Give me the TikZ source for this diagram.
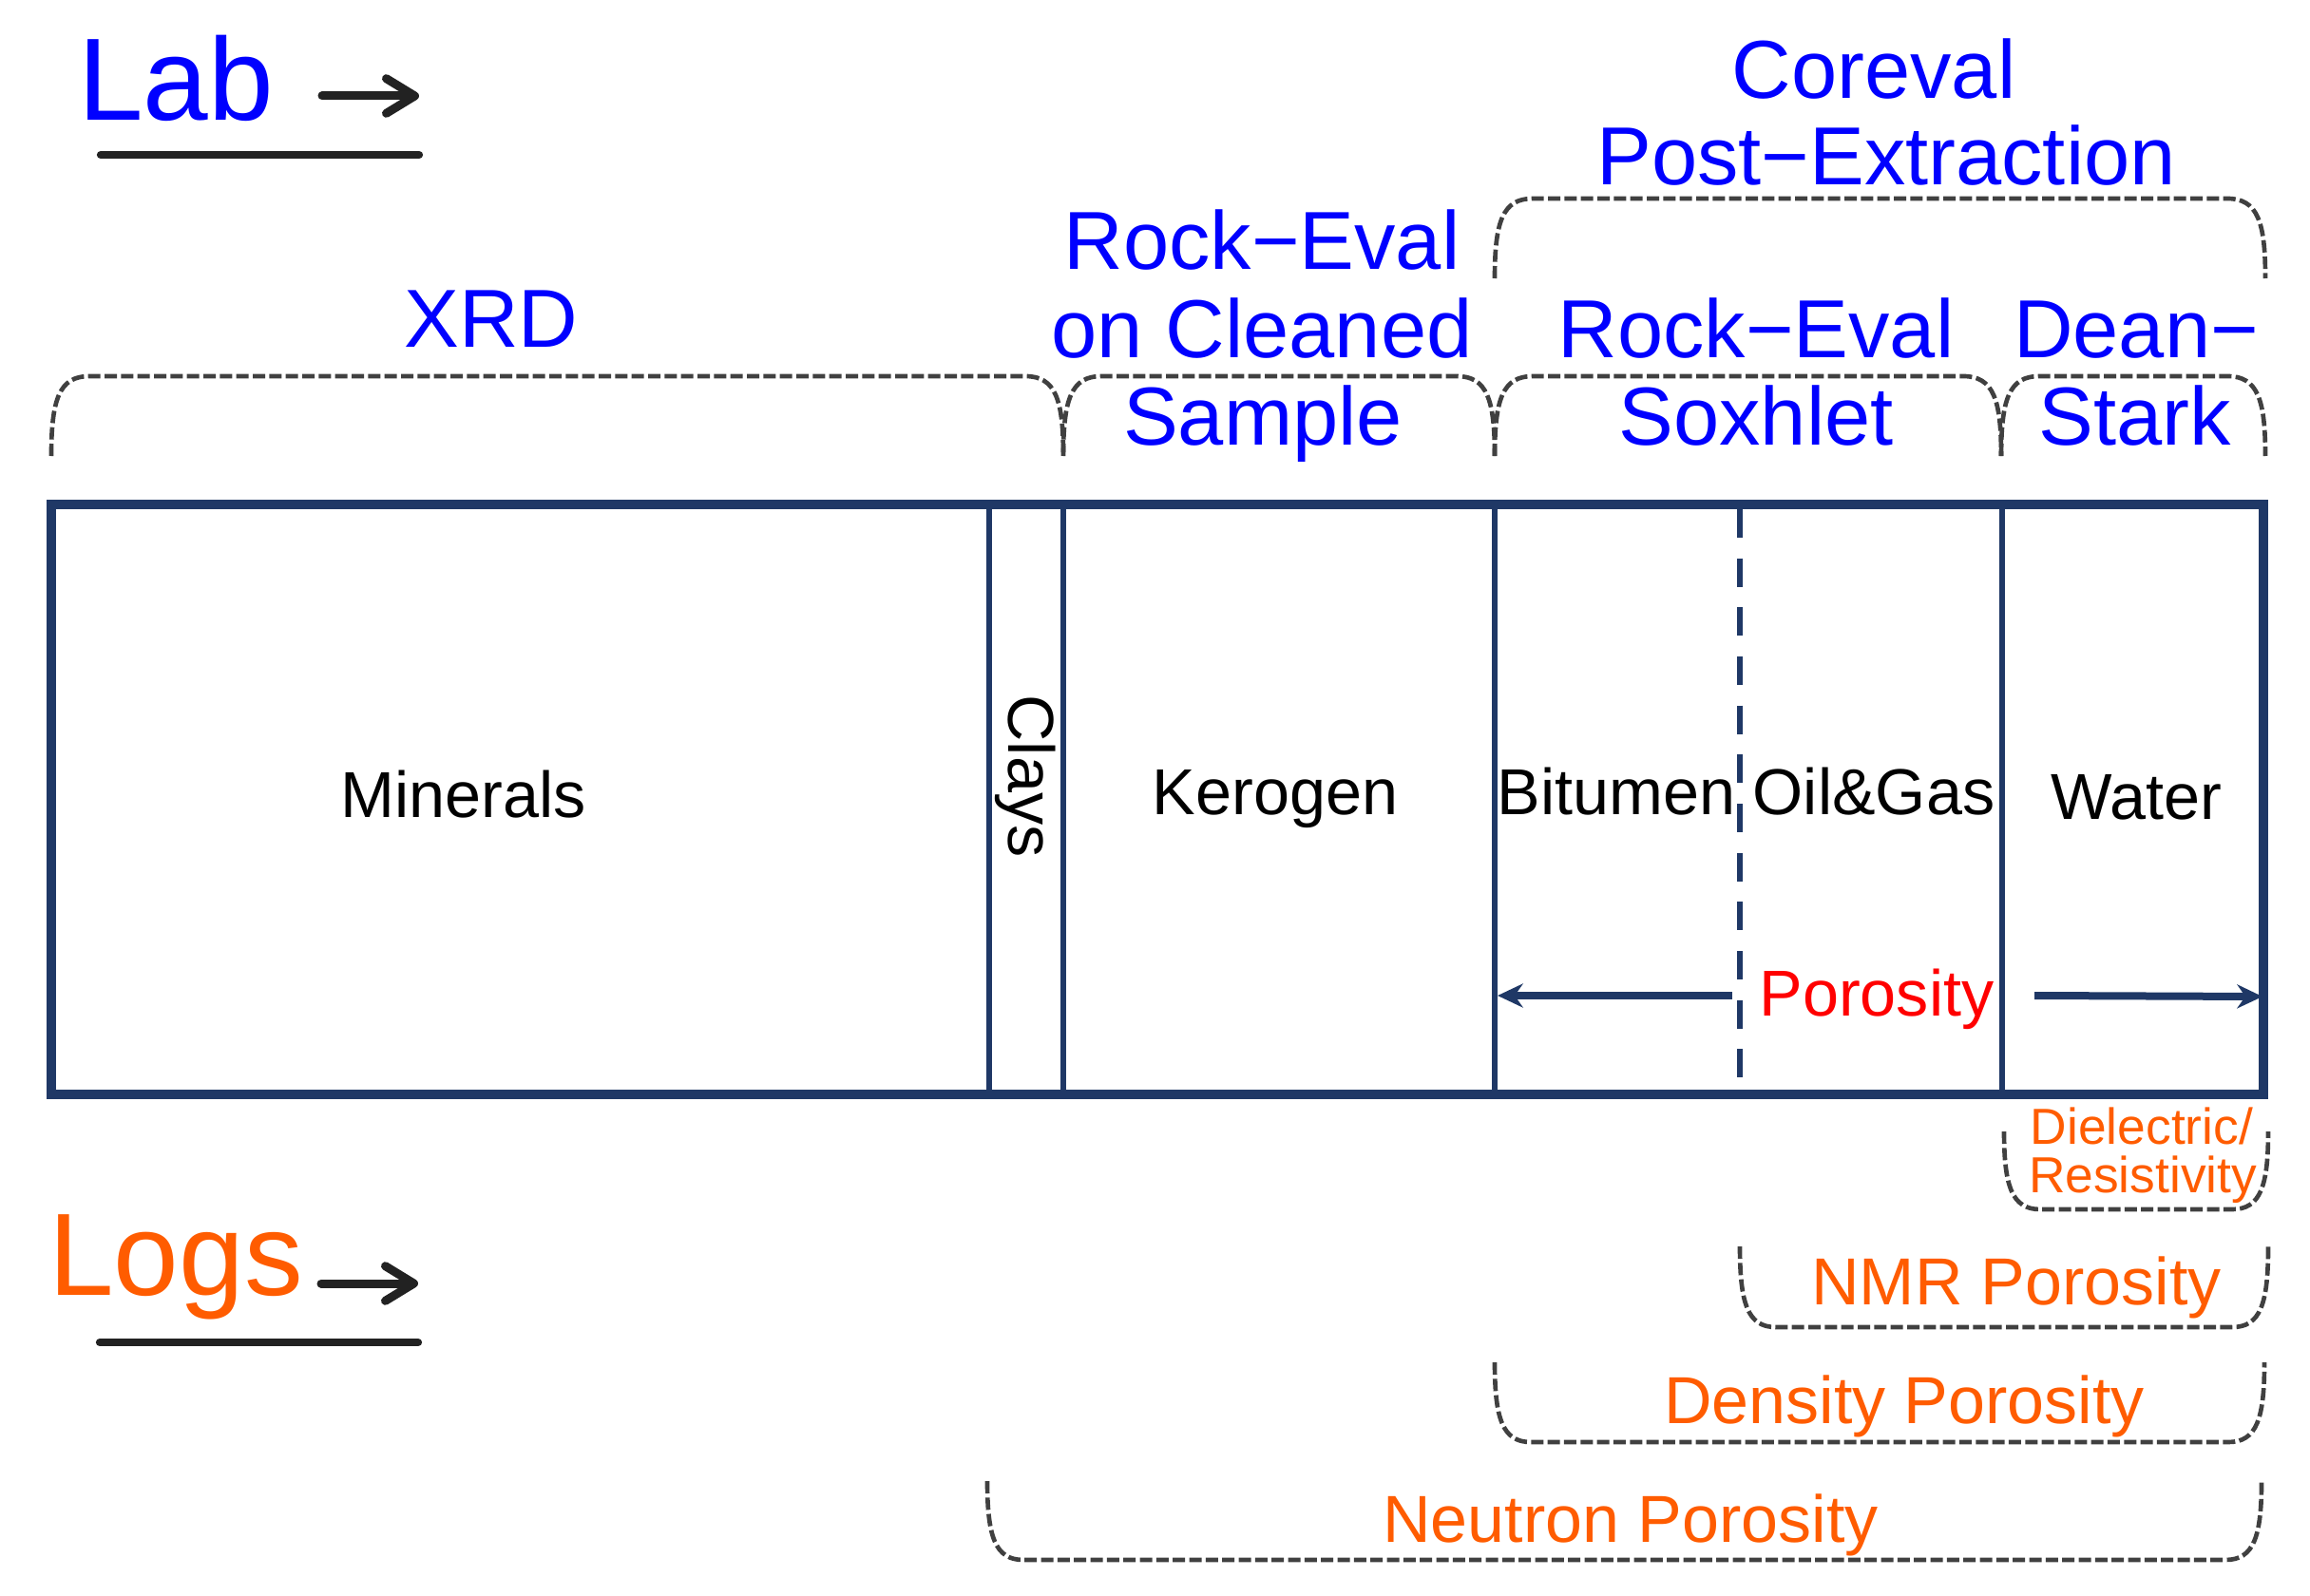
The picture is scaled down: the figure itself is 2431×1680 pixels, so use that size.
\documentclass[tikz,border=0pt]{standalone}
\usepackage{fontspec}
\setmainfont{Liberation Sans}
\usetikzlibrary{arrows.meta}
\definecolor{navy}{RGB}{31,56,102}
\definecolor{labblue}{RGB}{0,0,255}
\definecolor{logorange}{RGB}{255,92,0}
\definecolor{porred}{RGB}{255,0,0}
\definecolor{dashgray}{RGB}{64,64,64}
\definecolor{inkblack}{RGB}{34,34,34}
\newcommand{\mybracetop}[4]{% xl xr ytop ybot
  \draw[bracestyle] (#1,#4) .. controls (#1,{#3+25}) and ({#1+8},#3) .. ({#1+40},#3)
    -- ({#2-40},#3) .. controls ({#2-8},#3) and (#2,{#3+25}) .. (#2,#4);}
\newcommand{\mybracebot}[4]{% xl xr ytop ybot
  \draw[bracestyle] (#1,#3) .. controls (#1,{#4-25}) and ({#1+8},#4) .. ({#1+38},#4)
    -- ({#2-38},#4) .. controls ({#2-8},#4) and (#2,{#4-25}) .. (#2,#3);}
\tikzset{
  bracestyle/.style={dashgray, line width=1.4pt, dash pattern=on 3.9pt off 1.3pt},
  bluelab/.style={labblue, anchor=base, inner sep=0pt, font=\fontsize{26}{28}\selectfont},
  orangelab/.style={logorange, anchor=base, inner sep=0pt, font=\fontsize{21}{23}\selectfont},
  smallorange/.style={logorange, anchor=base, inner sep=0pt, font=\fontsize{16}{17}\selectfont},
  blacklab/.style={black, anchor=base, inner sep=0pt, font=\fontsize{20.5}{22}\selectfont},
  biglab/.style={anchor=base, inner sep=0pt, font=\fontsize{37}{40}\selectfont},
  thinline/.style={navy, line width=1.7pt},
  dashline/.style={navy, line width=1.7pt, dash pattern=on 9pt off 6.5pt},
  porarrow/.style={navy, line width=2.4pt, -{Stealth[length=8pt,width=7.5pt]}},
  blkarrow/.style={inkblack, line width=2.7pt, line cap=round, -{Straight Barb[length=9pt,width=11pt,line cap=round,line join=round]}},
  blkline/.style={inkblack, line width=2.5pt, line cap=round}
}
\begin{document}
\begin{tikzpicture}[x=0.3pt,y=-0.3pt]
\useasboundingbox (0,0) rectangle (2431,1680);
% Lab / Logs headings
\node[biglab, labblue] (lab) at (185,127) {Lab};
\coordinate (labA) at (339,101);
\coordinate (labB) at (441,101);
\draw[blkarrow] (labA) -- (labB);
\coordinate (labU1) at (106,163);
\coordinate (labU2) at (441,163);
\draw[blkline] (labU1) -- (labU2);
\node[biglab, logorange] (logs) at (185,1363) {Logs};
\coordinate (logA) at (338,1351);
\coordinate (logB) at (440,1351);
\draw[blkarrow] (logA) -- (logB);
\coordinate (logU1) at (105,1413);
\coordinate (logU2) at (440,1413);
\draw[blkline] (logU1) -- (logU2);
% top labels
\node[bluelab] (coreval) at (1972,104) {Coreval};
\node[bluelab] (postex) at (1985,195) {Post−Extraction};
\node[bluelab] (re1) at (1328,284) {Rock−Eval};
\node[bluelab] (re2) at (1328,377) {on Cleaned};
\node[bluelab] (re3) at (1329,468) {Sample};
\node[bluelab] (xrd) at (517,366) {XRD};
\node[bluelab] (sox1) at (1848,377) {Rock−Eval};
\node[bluelab] (sox2) at (1848,468) {Soxhlet};
\node[bluelab] (ds1) at (2248,377) {Dean−};
\node[bluelab] (ds2) at (2247,468) {Stark};
% top braces
\mybracetop{54}{1119}{396}{480}
\mybracetop{1119}{1573}{396}{480}
\mybracetop{1573}{2106}{396}{480}
\mybracetop{2106}{2384}{396}{480}
\mybracetop{1573}{2384}{209}{293}
% box dividers
\draw[thinline] (1041,531) -- (1041,1152);
\draw[thinline] (1119,531) -- (1119,1152);
\draw[thinline] (1573,531) -- (1573,1152);
\draw[dashline] (1831,536) -- (1831,1152);
\draw[thinline] (2107,531) -- (2107,1152);
\draw[navy, line width=2.8pt] (54,531) rectangle (2382,1152);
% compartment labels
\node[blacklab] (minerals) at (488,860) {Minerals};
\node[black, inner sep=0pt, rotate=-90, font=\fontsize{20.5}{22}\selectfont] (clays) at (1079,817) {Clays};
\node[blacklab] (kerogen) at (1342,857) {Kerogen};
\node[blacklab] (bitumen) at (1701,857) {Bitumen};
\node[blacklab] (oilgas) at (1972,857) {Oil\&Gas};
\node[blacklab] (water) at (2248,862) {Water};
\node[porred, anchor=base, inner sep=0pt, font=\fontsize{20.5}{22}\selectfont] (porosity) at (1975,1069) {Porosity};
\coordinate (pl1) at (1823,1048);
\coordinate (pl2) at (1576,1048);
\coordinate (pr1) at (2141,1048);
\coordinate (pr2) at (2381,1049);
\draw[porarrow] (pl1) -- (pl2);
\draw[porarrow] (pr1) -- (pr2);
% log labels
\node[smallorange] (diel1) at (2254,1204) {Dielectric/};
\node[smallorange] (diel2) at (2255,1255) {Resistivity};
\node[orangelab] (nmr) at (2122,1373) {NMR Porosity};
\node[orangelab] (dens) at (2004,1498) {Density Porosity};
\node[orangelab] (neut) at (1716,1623) {Neutron Porosity};
% bottom braces
\mybracebot{2109}{2387}{1191}{1273}
\mybracebot{1831}{2387}{1312}{1397}
\mybracebot{1573}{2383}{1434}{1518}
\mybracebot{1039}{2380}{1559}{1642}
\end{tikzpicture}
\end{document}
